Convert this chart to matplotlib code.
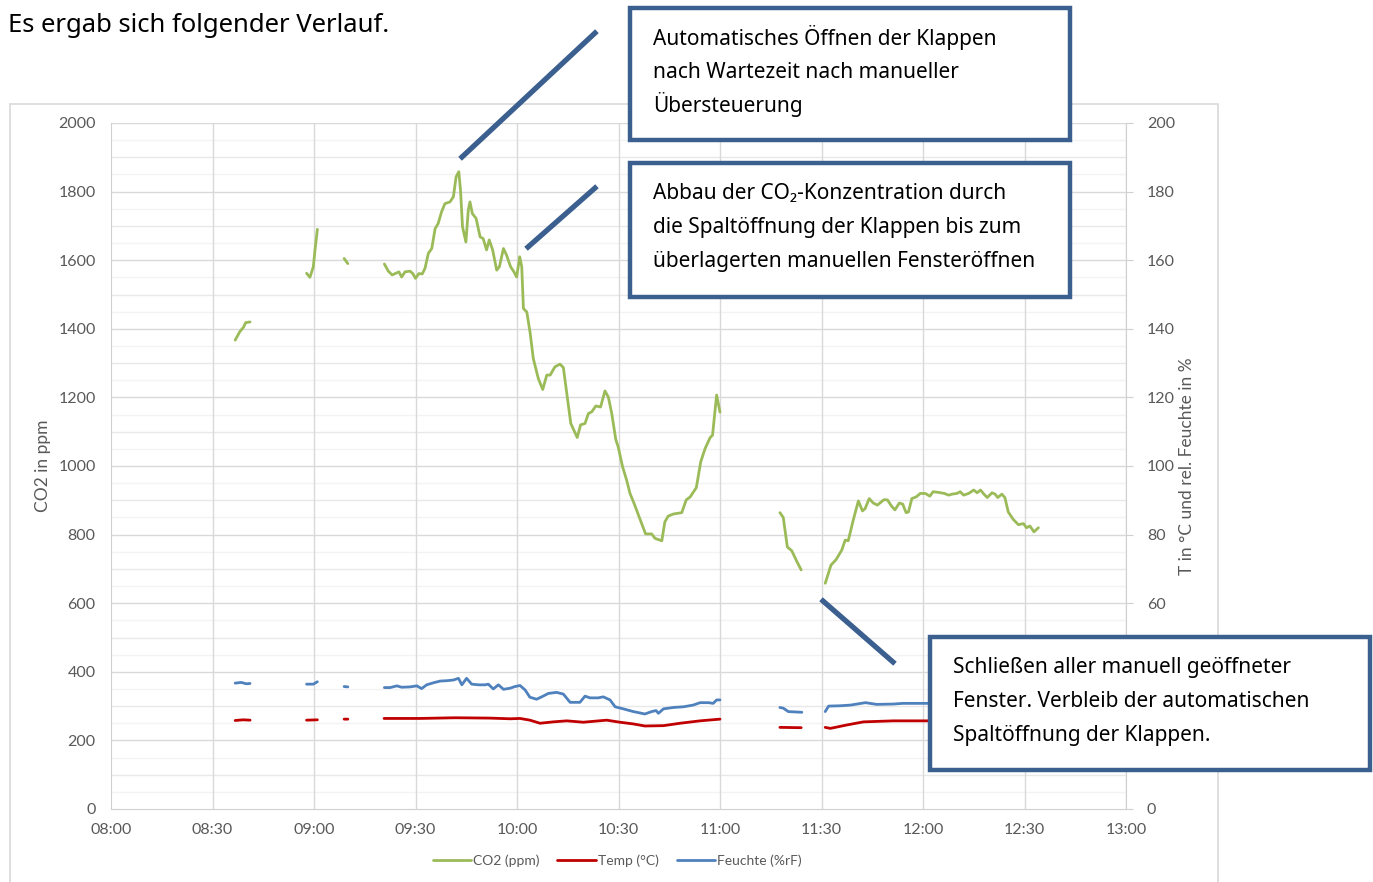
import numpy as np
import matplotlib
matplotlib.use("Agg")
import matplotlib.pyplot as plt
from matplotlib.patches import Rectangle
from matplotlib.lines import Line2D

# ---------------- data (minutes after 08:00, None = gap) ----------------
co2_min = [36.7, 38.1, 39.2, 39.8, 41.1, None,
           57.8, 58.8, 59.8, 60.3, 61.0, None,
           68.9, 70.0, None,
           80.8, 81.9, 83.1, 84.4, 85.1, 85.9, 86.9, 88.4, 89.2, 90.0, 91.0, 92.0, 92.8,
           93.8, 94.8, 95.8, 96.7, 97.7, 98.7, 100.2, 101.2, 102.0, 102.8, 103.3, 103.9,
           104.9, 105.6, 106.1, 106.8, 107.9, 109.1, 110.0, 111.0, 111.8, 112.8, 114.0,
           114.8, 116.0, 116.9, 118.1, 119.1, 119.9, 120.8, 121.4, 121.9, 122.9, 123.9,
           124.8, 126.3, 127.6, 128.8, 129.8, 131.2, 132.7, 133.7, 134.7, 135.9, 137.8,
           138.8, 140.1, 141.1, 142.1, 143.3, 144.7, 146.0, 147.0, 148.0, 149.2, 149.9,
           151.2, 152.4, 153.4, 154.6, 155.9, 158.0, 159.8, 160.8, 162.8, 163.7, 164.7,
           166.2, 168.7, 170.0, 171.2, 173.0, 174.3, 175.6, 177.1, 177.8, 179.0, 180.0, None,
           197.7, 198.7, 199.9, 201.2, 202.9, 204.0, None,
           211.1, 212.8, 214.3, 216.0, 217.0, 217.9, 219.4, 220.9, 222.1, 222.9, 224.1,
           225.3, 226.5, 228.5, 229.5, 230.7, 231.7, 233.0, 234.0, 235.0, 235.7, 236.7,
           238.0, 239.2, 240.7, 242.0, 243.0, 244.6, 246.3, 247.6, 248.6, 250.0, 251.0,
           252.0, 253.5, 255.0, 256.0, 257.0, 258.0, 259.0, 260.4, 261.3, 262.1, 263.3,
           264.2, 265.2, 266.7, 268.2, 269.7, 270.6, 271.6, 272.8, 274.1]
co2_ppm = [1367, 1392, 1405, 1418, 1420, None,
           1562, 1550, 1581, 1630, 1690, None,
           1605, 1590, None,
           1589, 1569, 1557, 1563, 1566, 1551, 1566, 1568, 1561, 1547, 1561, 1560, 1576,
           1620, 1634, 1692, 1707, 1741, 1765, 1770, 1785, 1843, 1858, 1805, 1697,
           1653, 1746, 1770, 1736, 1722, 1668, 1663, 1630, 1659, 1630, 1571,
           1581, 1634, 1615, 1581, 1566, 1551, 1610, 1581, 1459, 1449, 1387,
           1314, 1255, 1223, 1265, 1265, 1289, 1297, 1287, 1212, 1124, 1083,
           1120, 1124, 1153, 1158, 1175, 1172, 1219, 1201, 1153, 1077, 1056,
           998, 959, 920, 891, 857, 802, 802, 789, 782, 837, 854,
           860, 864, 901, 910, 937, 1012, 1051, 1083, 1090, 1207, 1157, None,
           864, 850, 764, 753, 718, 697, None,
           658, 711, 727, 755, 784, 782, 843, 898, 869, 876, 905,
           892, 886, 902, 901, 883, 872, 892, 889, 864, 866, 905,
           910, 920, 920, 912, 925, 923, 920, 915, 918, 920, 925,
           915, 920, 930, 922, 930, 918, 908, 922, 918, 908, 918,
           908, 866, 844, 829, 832, 820, 825, 808, 820]

temp_min = [36.7, 39.0, 41.1, None,
            57.8, 61.0, None,
            68.9, 70.0, None,
            80.7, 91.3, 101.7, 112.0, 118.0, 120.9, 123.8, 126.8, 130.7, 134.7, 139.6,
            146.5, 150.4, 154.4, 157.8, 163.3, 168.2, 174.1, 180.0, None,
            197.7, 204.0, None,
            211.1, 212.6, 217.5, 222.4, 231.2, 241.1, 255.0, 274.0]
temp_c = [25.8, 26.0, 25.9, None,
          25.9, 26.0, None,
          26.2, 26.2, None,
          26.4, 26.4, 26.6, 26.5, 26.3, 26.4, 25.9, 25.0, 25.4, 25.7, 25.3,
          25.9, 25.3, 24.8, 24.2, 24.3, 25.0, 25.7, 26.2, None,
          23.8, 23.7, None,
          23.8, 23.5, 24.5, 25.4, 25.7, 25.7, 25.8, 25.6]

hum_min = [36.7, 38.5, 40.0, 41.1, None,
           57.8, 59.8, 61.0, None,
           68.9, 70.0, None,
           80.8, 82.5, 84.5, 85.9, 88.4, 90.4, 91.8, 93.3, 95.3, 97.3, 99.2, 101.2, 102.7,
           103.7, 105.1, 106.6, 108.6, 110.6, 111.5, 113.0, 114.5, 116.0, 117.9, 119.4,
           120.9, 122.4, 123.8, 125.8, 127.3, 129.3, 131.7, 133.7, 135.7, 138.6, 140.1,
           141.6, 144.0, 145.5, 147.5, 149.0, 151.4, 154.4, 157.8, 159.8, 161.1, 161.8,
           163.3, 166.2, 169.2, 172.1, 174.1, 176.6, 178.0, 179.0, 180.0, None,
           197.7, 198.7, 200.2, 204.2, None,
           211.1, 212.1, 215.6, 218.6, 223.0, 226.3, 231.2, 234.1, 241.1, 255.0, 274.0]
hum_pct = [36.7, 36.9, 36.5, 36.6, None,
           36.4, 36.4, 37.1, None,
           35.7, 35.6, None,
           35.4, 35.4, 35.9, 35.5, 35.6, 35.9, 35.1, 36.2, 36.8, 37.3, 37.4, 37.6, 38.1,
           36.2, 38.1, 36.4, 36.2, 36.2, 36.4, 35.0, 36.2, 34.9, 35.2, 35.7,
           36.0, 34.7, 32.6, 32.0, 32.7, 33.7, 34.0, 33.5, 31.1, 31.1, 32.9,
           32.4, 32.4, 32.7, 31.8, 29.8, 29.2, 28.4, 27.7, 28.4, 28.7, 27.9,
           29.2, 29.6, 29.8, 30.3, 31.0, 31.0, 30.8, 31.8, 31.8, None,
           29.6, 29.4, 28.4, 28.2, None,
           28.4, 30.0, 30.1, 30.3, 31.0, 30.5, 30.6, 30.8, 30.8, 31.0, 30.8]

x_ticks_min = [0, 30, 60, 90, 120, 150, 180, 210, 240, 270, 300]
x_tick_labels = ["08:00", "08:30", "09:00", "09:30", "10:00", "10:30",
                 "11:00", "11:30", "12:00", "12:30", "13:00"]
right_ticks = [0, 60, 80, 100, 120, 140, 160, 180, 200]   # 20 and 40 lie under a note box

title_text = "Es ergab sich folgender Verlauf."
left_label = "CO2 in ppm"
right_label = "T in °C und rel. Feuchte in %"
note1 = ["Automatisches Öffnen der Klappen", "nach Wartezeit nach manueller", "Übersteuerung"]
note2 = ["Abbau der CO₂-Konzentration durch", "die Spaltöffnung der Klappen bis zum",
         "überlagerten manuellen Fensteröffnen"]
note3 = ["Schließen aller manuell geöffneter", "Fenster. Verbleib der automatischen",
         "Spaltöffnung der Klappen."]


def arr(v):
    return np.array([np.nan if a is None else a for a in v], dtype=float)


W, H = 1373, 882
fig = plt.figure(figsize=(W / 100, H / 100), dpi=100)
fig.patch.set_facecolor("white")


def fx(px):
    return px / W


def fy(py):
    return 1 - py / H


tick_font = "Lato"
grey = "#595959"
GREEN = "#9BBB59"
RED = "#C00000"
BLUE = "#4F81BD"
BOXC = "#3B5F8E"

# chart frame
fig.add_artist(Rectangle((fx(10), fy(884)), fx(1218) - fx(10), fy(104) - fy(884),
                         transform=fig.transFigure, fill=False, edgecolor="#d9d9d9", lw=1.2))

ax = fig.add_axes([fx(111), fy(809), fx(1126) - fx(111), fy(123) - fy(809)])
ax.set_xlim(0, 300)
ax.set_ylim(0, 2000)
for v in range(50, 2000, 50):
    if v % 200 == 0:
        c = "#d9d9d9"
    elif v % 100 == 0:
        c = "#e8e8e8"
    else:
        c = "#f3f3f3"
    ax.axhline(v, color=c, lw=1.0, zorder=0)
for m in x_ticks_min[1:]:
    ax.axvline(m, color="#d9d9d9", lw=1.0, zorder=0)
ax.axhline(2000, color="#d9d9d9", lw=1.0, zorder=0)

ax.set_xticks(x_ticks_min)
ax.set_xticklabels(x_tick_labels)
ax.set_yticks(range(0, 2001, 200))
ax.tick_params(axis="both", length=0, colors=grey, labelsize=11.5)
ax.tick_params(axis="x", pad=10)
ax.tick_params(axis="y", pad=11)
for lab in ax.get_xticklabels() + ax.get_yticklabels():
    lab.set_fontfamily(tick_font)
for s in ["top", "right"]:
    ax.spines[s].set_visible(False)
ax.spines["left"].set_color("#d0d0d0")
ax.spines["bottom"].set_color("#d0d0d0")

l1, = ax.plot(arr(co2_min), arr(co2_ppm), color=GREEN, lw=2.0, label="CO2 (ppm)",
              solid_joinstyle="round", solid_capstyle="round", zorder=3)

ax2 = ax.twinx()
ax2.set_ylim(0, 200)
ax2.set_yticks(right_ticks)
ax2.tick_params(axis="y", length=5, color="#d0d0d0", colors=grey, labelsize=11.5, pad=10)
for lab in ax2.get_yticklabels():
    lab.set_fontfamily(tick_font)
    lab.set_color(grey)
for s in ["top", "left", "bottom"]:
    ax2.spines[s].set_visible(False)
ax2.spines["right"].set_color("#d0d0d0")

l2, = ax2.plot(arr(temp_min), arr(temp_c), color=RED, lw=2.0, label="Temp (°C)",
               solid_capstyle="round", zorder=3)
l3, = ax2.plot(arr(hum_min), arr(hum_pct), color=BLUE, lw=2.0, label="Feuchte (%rF)",
               solid_capstyle="round", zorder=3)

# axis titles
fig.text(fx(43), fy(466), left_label, rotation=90, fontsize=12.5, color=grey,
         fontfamily=tick_font, ha="center", va="center")
fig.text(fx(1187), fy(466), right_label, rotation=90, fontsize=12.5, color=grey,
         fontfamily=tick_font, ha="center", va="center")

leg = fig.legend(handles=[l1, l2, l3], loc="center", bbox_to_anchor=(fx(617), fy(861)),
                 ncol=3, frameon=False, handlelength=2.8, handletextpad=0.1,
                 columnspacing=1.3, prop={"family": tick_font, "size": 10})
for t in leg.get_texts():
    t.set_color(grey)

# title text
fig.text(fx(8), fy(26), title_text, fontsize=18.5, fontfamily="Noto Sans", va="center",
         ha="left", color="black")

# callout lines
for (xa, ya, xb, yb) in [(595, 33, 462, 157), (595, 188, 528, 247), (823, 601, 893, 662)]:
    fig.add_artist(Line2D([fx(xa), fx(xb)], [fy(ya), fy(yb)], transform=fig.transFigure,
                          color=BOXC, lw=3.8, zorder=5))

# annotation boxes
for (x0, y0, x1, y1, lines) in [(630, 8, 1070, 140, note1), (630, 163, 1070, 297, note2),
                                (930, 637, 1370, 770, note3)]:
    fig.add_artist(Rectangle((fx(x0), fy(y1)), fx(x1) - fx(x0), fy(y0) - fy(y1),
                             transform=fig.transFigure, facecolor="white", edgecolor=BOXC,
                             lw=3.2, zorder=6))
    for i, ln in enumerate(lines):
        fig.text(fx(x0 + 23), fy(y0 + 36.5 + 33.7 * i), ln, fontsize=15, fontfamily="Noto Sans",
                 va="baseline", ha="left", color="black", zorder=7)

fig.savefig("out.png", dpi=100, facecolor="white")
